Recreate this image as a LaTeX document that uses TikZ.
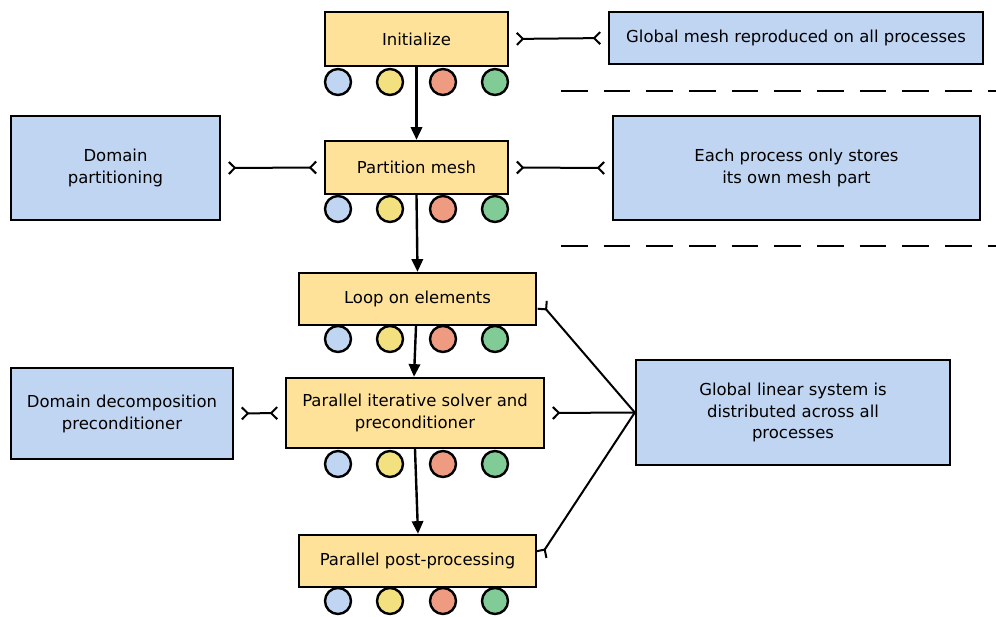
\documentclass[tikz,border=0pt]{standalone}
\usepackage{fontspec}
\setmainfont{DejaVu Sans}
\usetikzlibrary{arrows.meta}
\definecolor{stepfill}{HTML}{FFE29A}
\definecolor{notefill}{HTML}{C0D5F2}
\definecolor{cblue}{HTML}{C0D5F2}
\definecolor{cyellow}{HTML}{F3E07E}
\definecolor{cred}{HTML}{EE9B82}
\definecolor{cgreen}{HTML}{81CB96}
\newcommand{\twolines}[2]{\raisebox{-1.8pt}{\begin{tabular}{@{}c@{}}#1\\#2\end{tabular}}}
\begin{document}
\begin{tikzpicture}[x=0.75pt,y=-0.75pt,
  font=\fontsize{12.35}{16.5}\selectfont,
  stepbox/.style={draw, line width=1.8pt, fill=stepfill, inner sep=0pt, align=center},
  notebox/.style={draw, line width=1.8pt, fill=notefill, inner sep=0pt, align=center},
  proc/.style={circle, draw, line width=1.8pt, minimum size=19.5pt, inner sep=0pt},
  flow/.style={line width=1.8pt, -{Triangle[length=9.5pt,width=8.5pt]}},
  conn/.style={line width=1.5pt, {Straight Barb[reversed,length=4.5pt,width=9pt]}-{Straight Barb[reversed,length=4.5pt,width=9pt]}, shorten <=5pt, shorten >=5pt},
  connone/.style={line width=1.5pt, {Straight Barb[reversed,length=4.5pt,width=9pt]}-, shorten <=5pt},
  sep/.style={line width=1.5pt, dash pattern=on 20pt off 12pt}
]
\useasboundingbox (0,0) rectangle (996,617);

% process steps
\node[stepbox, minimum width=137.25pt, minimum height=40.5pt] (init) at (416.5,39) {Initialize};
\node[stepbox, minimum width=137.25pt, minimum height=39.75pt] (part) at (416.5,167.5) {Partition mesh};
\node[stepbox, minimum width=177.75pt, minimum height=39pt] (loop) at (417.5,299) {Loop on elements};
\node[stepbox, minimum width=193.5pt, minimum height=52.5pt] (solve) at (415,413) {Parallel iterative solver and\\preconditioner};
\node[stepbox, minimum width=177.75pt, minimum height=39pt] (post) at (417.5,561) {Parallel post-processing};

% notes
\node[notebox, minimum width=280.5pt, minimum height=39pt] (gmesh) at (796,38) {Global mesh reproduced on all processes};
\node[notebox, minimum width=156.75pt, minimum height=78pt] (dompart) at (115.5,168) {\twolines{Domain}{partitioning}};
\node[notebox, minimum width=275.25pt, minimum height=78pt] (eachproc) at (796.5,168) {\twolines{Each process only stores}{its own mesh part}};
\node[notebox, minimum width=166.5pt, minimum height=68.25pt] (domdec) at (122,413.5) {Domain decomposition\\preconditioner};
\node[notebox, minimum width=235.5pt, minimum height=78.75pt, font=\fontsize{12.35}{15.8}\selectfont] (glin) at (793,412.5) {Global linear system is\\distributed across all\\processes};

% process circles
\foreach \r/\y in {i/82,p/209,l/339,s/464,q/601}
  \foreach \k/\x/\c in {1/338/cblue,2/390/cyellow,3/443/cred,4/495/cgreen}
    \node[proc, fill=\c] (\r\k) at (\x,\y) {};

% flow arrows
\draw[flow] (init.south) -- (part.north);
\draw[flow] (part.south) -- (loop.north);
\draw[flow] (loop.south -| 416,0) -- (solve.north -| 414,0);
\draw[flow] (solve.south) -- (post.north -| 418,0);

% connectors
\draw[conn] (init.east) -- (gmesh.west);
\draw[conn] (dompart.east) -- (part.west);
\draw[conn] (part.east) -- (eachproc.west);
\draw[conn] (domdec.east) -- (solve.west);
\draw[connone] (loop.east) -- (glin.west);
\draw[connone] (solve.east) -- (glin.west);
\draw[connone] (post.east) -- (glin.west);

% separators
\draw[sep] (561,91) -- (996,91);
\draw[sep] (561,246) -- (996,246);
\end{tikzpicture}
\end{document}
